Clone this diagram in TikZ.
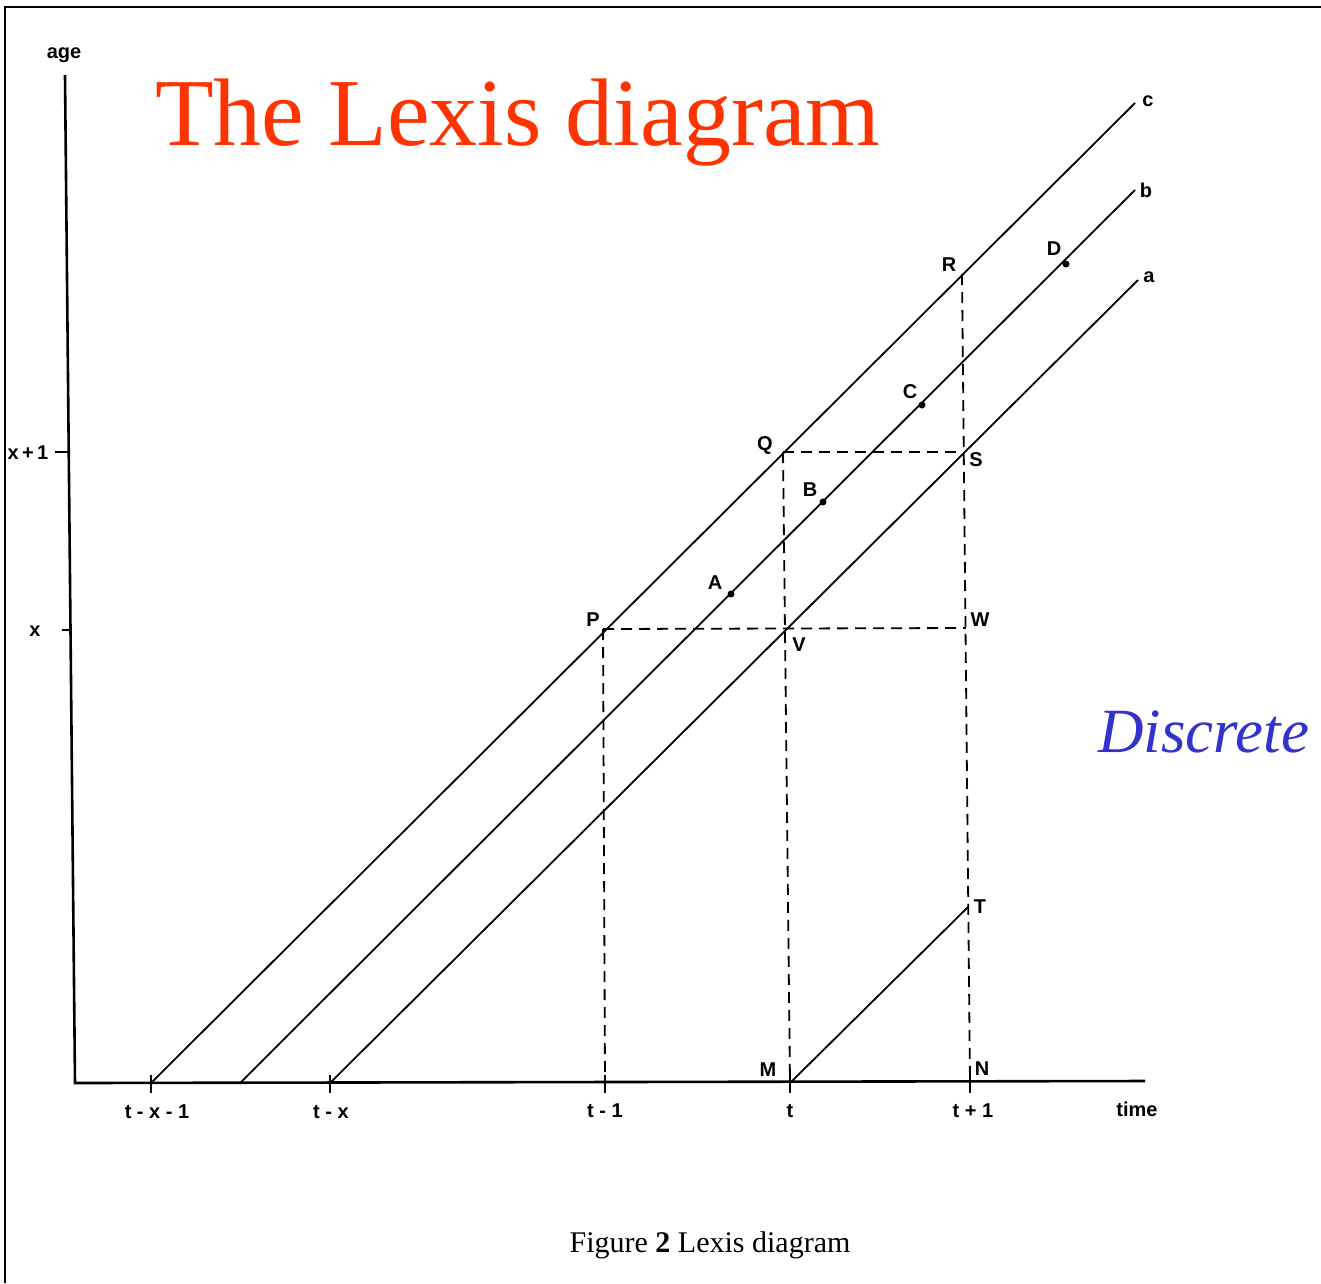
\documentclass[tikz,border=0pt]{standalone}
\usepackage{fontspec}
\setmainfont{Liberation Serif}
\newfontfamily\lblfont{Liberation Sans}
\definecolor{titlered}{RGB}{255,51,0}
\definecolor{discblue}{RGB}{51,51,204}
\begin{document}
\begin{tikzpicture}[x=1pt,y=-1pt,
  frame/.style={line width=2.6pt},
  axis/.style={line width=2.6pt},
  diag/.style={line width=1.8pt},
  dashln/.style={line width=1.8pt, dash pattern=on 11pt off 7pt},
  lbl/.style={font=\lblfont\bfseries\fontsize{20}{20}\selectfont, inner sep=0pt},
  pt/.style={circle, fill, inner sep=0pt, minimum size=7pt}]
\useasboundingbox (0,0) rectangle (1321,1283);
% frame
\draw[frame] (5,1283) -- (5,7) -- (1321,7);
% axes
\coordinate (ytop) at (65,75);
\coordinate (orig) at (75,1083);
\coordinate (xend) at (1145,1081);
\draw[axis] (ytop) -- (orig) -- (xend);
\node[lbl] (agelbl) at (64,55) {age};
\node[lbl] (timelbl) at (1137,1109) {time};
% y ticks
\coordinate (yt1a) at (55,452); \coordinate (yt1b) at (69,452);
\coordinate (yt0a) at (62,630); \coordinate (yt0b) at (71,630);
\draw[axis, line width=2pt] (yt1a) -- (yt1b);
\draw[axis, line width=1.5pt] (yt0a) -- (yt0b);
\node[lbl] (lx1) at (28,453) {x\,+\,1};
\node[lbl] (lx0) at (35,631) {x};
% x ticks
\foreach \xx/\nm in {151/ta,330/tb,605/tc,790/td,970/te}{
  \coordinate (\nm u) at (\xx,1075);
  \coordinate (\nm d) at (\xx,1093);
  \draw[line width=2pt] (\nm u) -- (\nm d);
}
\node[lbl] (lta) at (157,1112) {t - x - 1};
\node[lbl] (ltb) at (331,1112) {t - x};
\node[lbl] (ltc) at (605,1111) {t - 1};
\node[lbl] (ltd) at (790,1111) {t};
\node[lbl] (lte) at (973,1111) {t + 1};
% diagonal lines
\coordinate (c0) at (151,1083); \coordinate (c1) at (1135,103);
\coordinate (b0) at (240,1083); \coordinate (b1) at (1135,190);
\coordinate (a0) at (330,1083); \coordinate (a1) at (1138,280);
\draw[diag] (c0) -- (c1);
\draw[diag] (b0) -- (b1);
\draw[diag] (a0) -- (a1);
\node[lbl] (lc) at (1148,101) {c};
\node[lbl] (lb) at (1146,190) {b};
\node[lbl] (la) at (1149,277) {a};
% key points
\coordinate (P) at (603,629);
\coordinate (Q) at (783,452);
\coordinate (R) at (962,274);
\coordinate (S) at (963,452);
\coordinate (V) at (785,629);
\coordinate (W) at (966,628);
\coordinate (M) at (790,1083);
\coordinate (N) at (970,1083);
\coordinate (T) at (968,907);
\coordinate (P0) at (605,1083);
% dashed lines
\draw[dashln] (P) -- (W);
\draw[dashln] (Q) -- (S);
\draw[dashln] (P) -- (P0);
\draw[dashln] (Q) -- (M);
\draw[dashln] (R) -- (N);
% M-T line
\draw[diag] (M) -- (T);
% dots on b
\node[pt] (A) at (731,594) {};
\node[pt] (B) at (823,502) {};
\node[pt] (C) at (922,405) {};
\node[pt] (D) at (1066,264) {};
\node[lbl] (lA) at (715,583) {A};
\node[lbl] (lB) at (810,490) {B};
\node[lbl] (lC) at (910,392) {C};
\node[lbl] (lD) at (1054,249) {D};
% point labels
\node[lbl] (lP) at (593,620) {P};
\node[lbl] (lQ) at (765,445) {Q};
\node[lbl] (lR) at (949,265) {R};
\node[lbl] (lS) at (976,460) {S};
\node[lbl] (lV) at (799,645) {V};
\node[lbl] (lW) at (980,620) {W};
\node[lbl] (lM) at (768,1070) {M};
\node[lbl] (lN) at (982,1069) {N};
\node[lbl] (lT) at (980,907) {T};
% titles
\node[anchor=base west, inner sep=0pt, text=titlered, font=\fontsize{96}{96}\selectfont] (title) at (155,145) {The Lexis diagram};
\node[anchor=base west, inner sep=0pt, text=discblue, font=\itshape\fontsize{63}{63}\selectfont] (disc) at (1098,752) {Discrete};
\node[anchor=base, inner sep=0pt, font=\fontsize{30}{30}\selectfont] (caption) at (710,1252) {Figure \textbf{2} Lexis diagram};
\end{tikzpicture}
\end{document}
